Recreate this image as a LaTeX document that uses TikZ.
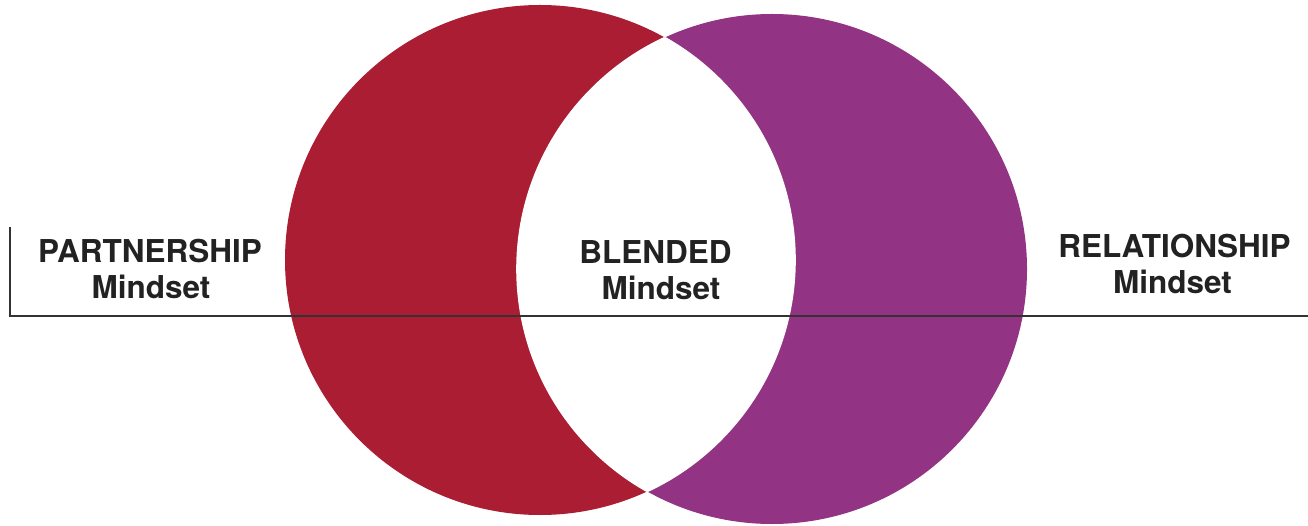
\documentclass[tikz,border=0pt]{standalone}
\usepackage{fontspec}
\setmainfont{TeX Gyre Heros}
\definecolor{crimson}{HTML}{AB1D33}
\definecolor{plum}{HTML}{923383}
\definecolor{ink}{HTML}{222222}
\begin{document}
\begin{tikzpicture}[x=1pt,y=-1pt,
  lbl/.style={font=\fontsize{31.5}{36}\selectfont\bfseries, text=ink, anchor=base, inner sep=0pt},
  rule/.style={draw=black!80, line width=1.4pt},
  gap/.style={draw=white, line width=1.6pt}]
\useasboundingbox[fill=white] (0,0) rectangle (1308,526);
\coordinate (cl) at (540,260);
\coordinate (cr) at (772,269);
\fill[crimson] (cl) circle[radius=255pt];
\fill[plum] (cr) circle[radius=255pt];
\begin{scope}
  \clip (cl) circle[radius=255pt];
  \fill[white] (cr) circle[radius=255pt];
  \draw[gap] (cr) circle[radius=255pt];
\end{scope}
\begin{scope}
  \clip (cr) circle[radius=255pt];
  \draw[gap] (cl) circle[radius=255pt];
\end{scope}
\coordinate (tickTop) at (10,227);
\coordinate (corner) at (10,316);
\coordinate (lineEnd) at (1308,316);
\draw[rule] (tickTop) -- (corner) -- (lineEnd);
\node[lbl] (p1) at (150,263) {PARTNERSHIP};
\node[lbl] (p2) at (151,298.5) {Mindset};
\node[lbl] (b1) at (655.5,263.3) {BLENDED};
\node[lbl] (b2) at (661,299.3) {Mindset};
\node[lbl] (r1) at (1174.5,257.7) {RELATIONSHIP};
\node[lbl] (r2) at (1172.5,293.3) {Mindset};
\end{tikzpicture}
\end{document}
